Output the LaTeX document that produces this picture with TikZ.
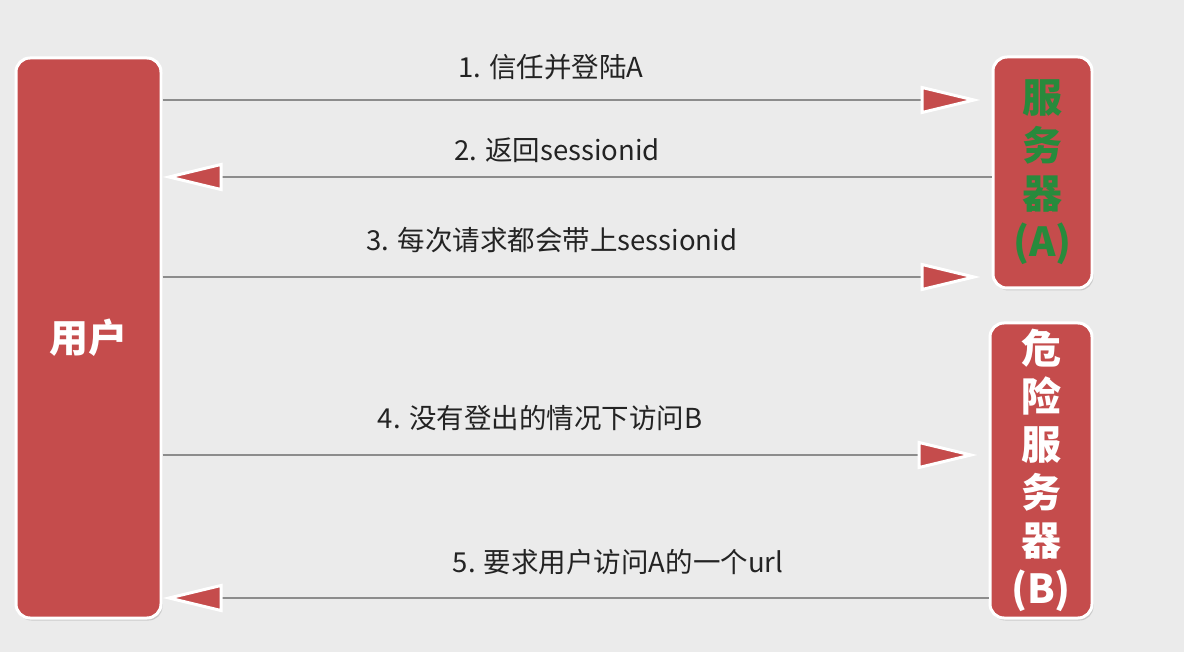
\documentclass[tikz,border=0pt]{standalone}
\usepackage{fontspec}
\newfontfamily\cjk{Noto Sans CJK SC}
\usetikzlibrary{arrows.meta,shadows}
\definecolor{bgcol}{RGB}{235,235,235}
\definecolor{boxred}{RGB}{197,76,76}
\definecolor{srvgreen}{RGB}{40,138,60}
\definecolor{linegray}{RGB}{140,140,140}
\definecolor{txtgray}{RGB}{35,35,35}

\begin{document}
\begin{tikzpicture}[x=1pt,y=1pt]
\tikzstyle{every node}+=[inner sep=0pt]
\tikzstyle{box}=[fill=boxred,draw=white,line width=3pt,rounded corners=14pt,drop shadow={opacity=0.3,shadow xshift=1.5pt,shadow yshift=-2.5pt},align=center]
\tikzstyle{msg}=[draw=linegray,line width=1.8pt,-{Triangle[length=60pt,width=28pt,fill=boxred,color=white,line width=3pt]}]
\tikzstyle{msgtext}=[font=\cjk\fontsize{27.5}{30}\selectfont,text=txtgray]
\fill [bgcol] (0,0) rectangle (1184,-652);
% boxes
\node [box,minimum width=145pt,minimum height=560pt,text=white,font=\cjk\bfseries\fontsize{39}{42}\selectfont] (user) at (88.5,-338) {用户};
\node [box,minimum width=99pt,minimum height=231pt,text=srvgreen,font=\cjk\bfseries\fontsize{40}{48}\selectfont] (srvA) at (1042.5,-172.5) {服\\务\\器\\(A)};
\node [box,minimum width=102pt,minimum height=295pt,text=white,font=\cjk\bfseries\fontsize{40}{48}\selectfont] (srvB) at (1041,-470.5) {危\\险\\服\\务\\器\\(B)};
% messages
\draw [msg,shorten >=11pt] (user.east |- 0,-100) -- (srvA.west |- 0,-100);
\node [msgtext] (m1) at (551,-67) {1. 信任并登陆A};
\draw [msg] (srvA.west |- 0,-177) -- (user.east |- 0,-177);
\node [msgtext] (m2) at (557,-150) {2. 返回sessionid};
\draw [msg,shorten >=11pt] (user.east |- 0,-277) -- (srvA.west |- 0,-277);
\node [msgtext] (m3) at (552,-240) {3. 每次请求都会带上sessionid};
\draw [msg,shorten >=11pt] (user.east |- 0,-455) -- (srvB.west |- 0,-455);
\node [msgtext] (m4) at (540,-418) {4. 没有登出的情况下访问B};
\draw [msg] (srvB.west |- 0,-598) -- (user.east |- 0,-598);
\node [msgtext] (m5) at (618,-562) {5. 要求用户访问A的一个url};
\end{tikzpicture}
\end{document}
